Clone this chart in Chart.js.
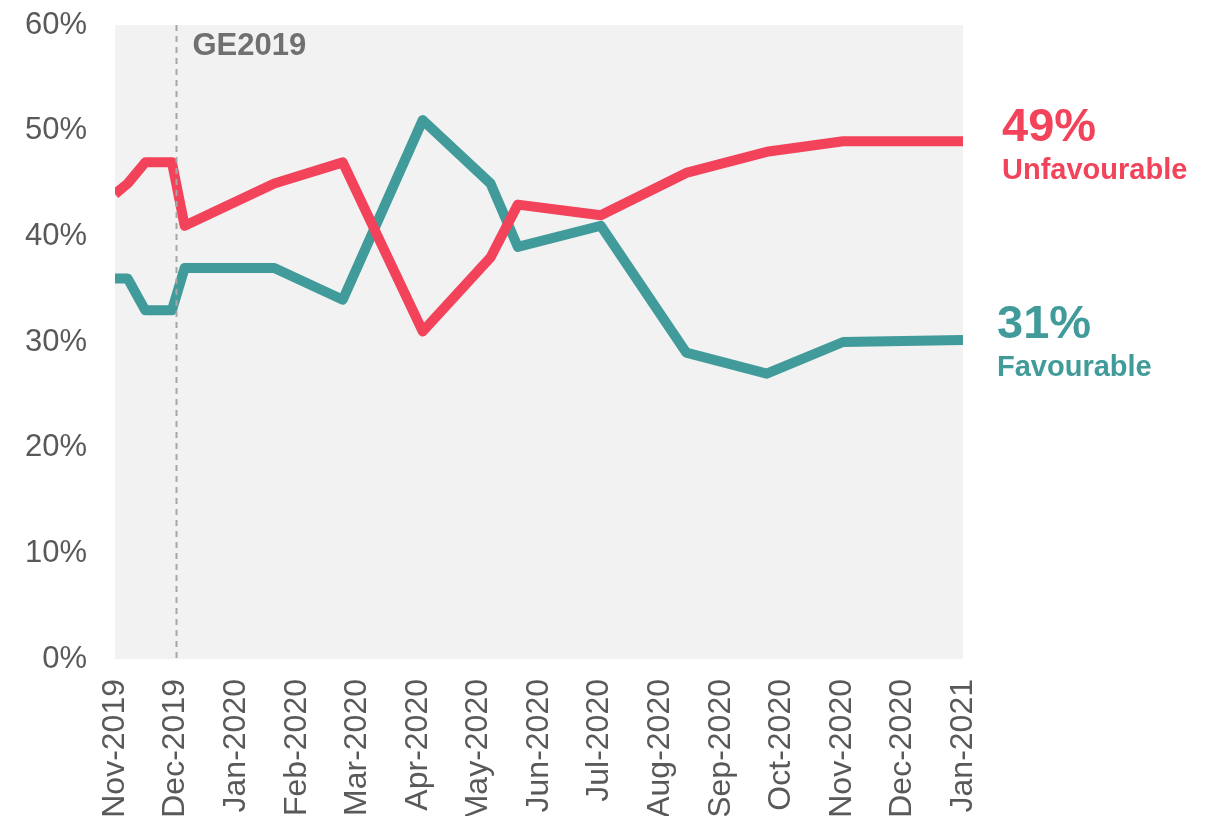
<!DOCTYPE html>
<html>
<head>
<meta charset="utf-8">
<script src="https://cdn.jsdelivr.net/npm/chart.js@4/dist/chart.umd.min.js"></script>
<style>
  html, body { margin: 0; padding: 0; background: #fff; }
  #wrap { width: 1214px; height: 816px; }
</style>
</head>
<body>
<div id="wrap"><canvas id="chart"></canvas></div>
<script>
// month axis labels, one per month step
var monthLabels = ["Nov-2019", "Dec-2019", "Jan-2020", "Feb-2020", "Mar-2020", "Apr-2020", "May-2020",
  "Jun-2020", "Jul-2020", "Aug-2020", "Sep-2020", "Oct-2020", "Nov-2020", "Dec-2020", "Jan-2021"];
// poll dates, in months since Nov-2019
var pollMonth = [0, 0.21, 0.5, 0.94, 1.15, 2.63, 3.76, 5.08, 6.2, 6.65, 8.02, 9.43, 10.76, 12.02, 14];
var unfavourable = [44, 45, 47, 47, 41, 45, 47, 31, 38, 43, 42, 46, 48, 49, 49];
var favourable = [36, 36, 33, 33, 37, 37, 34, 51, 45, 39, 41, 29, 27, 30, 30.2];
var yTicks = [0, 10, 20, 30, 40, 50, 60];
var electionMonth = 1;

var red = '#F2435A';
var teal = '#419B9A';
var grey = '#595959';
var fam = '"Liberation Sans", Arial, sans-serif';

function points(vals) {
  return vals.map(function (v, i) { return { x: pollMonth[i], y: v }; });
}

var extras = {
  id: 'extras',
  beforeDraw: function (chart) {
    var c = chart.ctx, a = chart.chartArea;
    c.save();
    c.fillStyle = '#F2F2F2';
    c.fillRect(a.left, a.top, a.right - a.left, a.bottom - a.top);
    c.restore();
  },
  afterDatasetsDraw: function (chart) {
    var c = chart.ctx, a = chart.chartArea;
    var xs = chart.scales.x, ys = chart.scales.y;
    var gx = Math.round(xs.getPixelForValue(electionMonth)) + 0.5;
    c.save();
    c.strokeStyle = '#A6A6A6';
    c.lineWidth = 2;
    c.setLineDash([6, 5]);
    c.beginPath();
    c.moveTo(gx, a.top);
    c.lineTo(gx, a.bottom);
    c.stroke();
    c.setLineDash([]);

    c.fillStyle = '#707070';
    c.font = 'bold 31px ' + fam;
    c.textBaseline = 'alphabetic';
    c.fillText('GE2019', gx + 16, a.top + 30);

    var last = unfavourable.length - 1;
    var ry = ys.getPixelForValue(unfavourable[last]);
    c.fillStyle = red;
    c.font = 'bold 47px ' + fam;
    c.fillText('49%', a.right + 39, ry);
    c.font = 'bold 29px ' + fam;
    c.fillText('Unfavourable', a.right + 39, ry + 38);

    var ty = ys.getPixelForValue(favourable[last]);
    c.fillStyle = teal;
    c.font = 'bold 47px ' + fam;
    c.fillText('31%', a.right + 34, ty - 2);
    c.font = 'bold 29px ' + fam;
    c.fillText('Favourable', a.right + 34, ty + 36);
    c.restore();
  }
};

new Chart(document.getElementById('chart'), {
  type: 'line',
  data: {
    datasets: [{
      label: 'Unfavourable',
      data: points(unfavourable),
      borderColor: red,
      borderWidth: 10,
      borderJoinStyle: 'round',
      pointRadius: 0,
      tension: 0
    }, {
      label: 'Favourable',
      data: points(favourable),
      borderColor: teal,
      borderWidth: 10,
      borderJoinStyle: 'round',
      pointRadius: 0,
      tension: 0
    }]
  },
  options: {
    responsive: true,
    maintainAspectRatio: false,
    animation: false,
    layout: { padding: { top: 25, right: 251, left: 0, bottom: 0 } },
    plugins: { legend: { display: false }, tooltip: { enabled: false } },
    scales: {
      x: {
        type: 'linear',
        min: 0,
        max: monthLabels.length - 1,
        grid: { display: false, drawTicks: false },
        border: { display: false },
        afterBuildTicks: function (s) {
          s.ticks = monthLabels.map(function (l, i) { return { value: i }; });
        },
        afterFit: function (s) { s.height = 157; s.paddingLeft = 0; s.paddingRight = 0; },
        ticks: {
          autoSkip: false,
          minRotation: 90,
          maxRotation: 90,
          padding: 20,
          color: grey,
          font: { family: fam, size: 32 },
          callback: function (v) { return monthLabels[v]; }
        }
      },
      y: {
        min: 0,
        max: 60,
        grid: { display: false, drawTicks: false },
        border: { display: false },
        afterBuildTicks: function (s) {
          s.ticks = yTicks.map(function (v) { return { value: v }; });
        },
        afterFit: function (s) { s.width = 115; s.paddingTop = 0; s.paddingBottom = 0; },
        ticks: {
          padding: 28,
          color: grey,
          font: { family: fam, size: 31 },
          callback: function (v) { return v + '%'; }
        }
      }
    }
  },
  plugins: [extras]
});
</script>
</body>
</html>
